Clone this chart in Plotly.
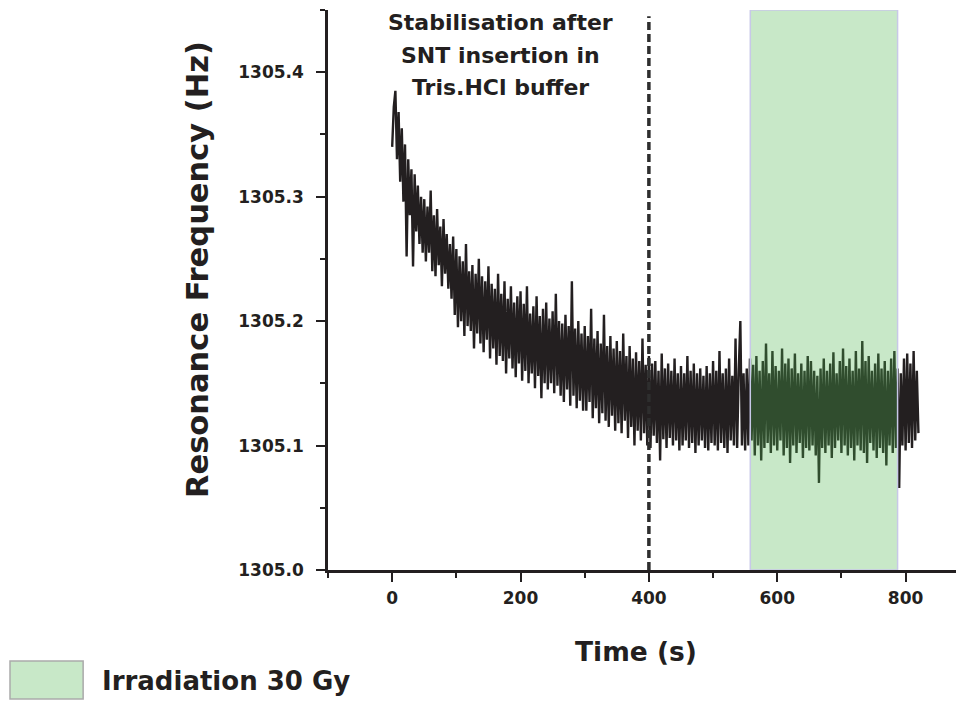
import numpy as np
import plotly.graph_objects as go

# ---------------- data ----------------
sample_interval_s = 2.5          # time between plotted samples
baseline_hz = 1305.0             # offsets below are in mHz above this
freq_offset_mhz = [
    # 0 - 47.5 s
    340, 372, 385, 330, 368, 312, 355, 296, 342, 252, 330, 285, 322, 244, 318, 272, 309, 262, 300, 255,
    # 50 - 97.5 s
    298, 248, 292, 255, 305, 240, 285, 236, 290, 245, 276, 228, 282, 238, 270, 226, 262, 218, 268, 205,
    # 100 - 147.5 s
    258, 195, 252, 200, 248, 188, 262, 196, 240, 192, 245, 178, 238, 190, 250, 182, 236, 175, 232, 185,
    # 150 - 197.5 s
    244, 170, 230, 178, 226, 165, 238, 172, 222, 168, 232, 158, 218, 170, 228, 162, 215, 155, 220, 166,
    # 200 - 247.5 s
    224, 152, 214, 160, 228, 150, 206, 158, 212, 146, 220, 156, 204, 138, 210, 150, 215, 145, 202, 150,
    # 250 - 297.5 s
    208, 142, 222, 148, 200, 140, 198, 135, 205, 145, 196, 132, 232, 140, 194, 130, 200, 136, 190, 128,
    # 300 - 347.5 s
    196, 128, 188, 135, 210, 122, 186, 130, 192, 118, 182, 126, 205, 120, 180, 115, 188, 124, 178, 112,
    # 350 - 397.5 s
    184, 118, 176, 110, 190, 120, 172, 106, 180, 115, 170, 100, 175, 112, 168, 104, 186, 110, 165, 100,
    # 400 - 447.5 s
    172, 98, 166, 108, 168, 102, 160, 88, 174, 105, 162, 98, 166, 106, 160, 100, 170, 104, 158, 96,
    # 450 - 497.5 s
    164, 100, 158, 104, 172, 98, 160, 102, 166, 94, 158, 100, 162, 104, 156, 98, 164, 96, 158, 102,
    # 500 - 547.5 s
    168, 100, 160, 96, 176, 102, 158, 98, 162, 94, 170, 104, 156, 100, 186, 98, 160, 200, 100, 158,
    # 550 - 597.5 s
    96, 162, 100, 170, 104, 165, 92, 172, 100, 160, 88, 168, 98, 182, 102, 158, 94, 176, 100, 164,
    # 600 - 647.5 s
    96, 160, 104, 178, 92, 166, 98, 170, 86, 162, 100, 174, 94, 158, 102, 166, 90, 160, 98, 172,
    # 650 - 697.5 s
    96, 168, 100, 160, 92, 156, 70, 162, 98, 170, 94, 160, 100, 166, 90, 175, 98, 158, 104, 168,
    # 700 - 747.5 s
    94, 178, 100, 164, 92, 170, 98, 160, 88, 176, 100, 162, 96, 184, 94, 168, 86, 172, 102, 160,
    # 750 - 797.5 s
    96, 166, 90, 174, 98, 162, 94, 168, 84, 160, 100, 170, 94, 176, 98, 162, 66, 158, 100, 170,
    # 800 - 820 s
    96, 174, 102, 166, 98, 176, 104, 160, 110,
]

marker_time_s = 400              # dashed vertical line
irradiation_start_s = 558
irradiation_end_s = 787.5
x_tick_values = [0, 200, 400, 600, 800]
y_tick_values = [1305.0, 1305.1, 1305.2, 1305.3, 1305.4]

annotation_lines = ["Stabilisation after", "SNT insertion in", "Tris.HCl buffer"]
legend_label = "Irradiation 30 Gy"
x_title = "Time (s)"
y_title = "Resonance Frequency (Hz)"

# ---------------- derived ----------------
time_s = np.arange(len(freq_offset_mhz)) * sample_interval_s
freq_hz = baseline_hz + np.array(freq_offset_mhz) / 1000.0

INK = "#231f20"
FONT = "DejaVu Sans"
X_RANGE = [-100, 891]
Y_RANGE = [1305.0, 1305.45]

fig = go.Figure()
fig.add_trace(go.Scatter(
    x=time_s, y=freq_hz, mode="lines",
    line=dict(color=INK, width=2.4),
    hoverinfo="skip", showlegend=False,
))

# dashed vertical line
fig.add_trace(go.Scatter(
    x=[marker_time_s, marker_time_s], y=[Y_RANGE[0], 1305.445], mode="lines",
    line=dict(color="#2e2e2e", width=3.5, dash="8px,4px"),
    hoverinfo="skip", showlegend=False,
))

# irradiation window (translucent, over the signal)
fig.add_shape(
    type="rect", xref="x", yref="y",
    x0=irradiation_start_s, x1=irradiation_end_s, y0=Y_RANGE[0], y1=Y_RANGE[1],
    fillcolor="rgba(77,180,77,0.31)", line=dict(color="rgb(200,200,232)", width=1.5),
    layer="above",
)

# legend swatch
fig.add_shape(
    type="rect", xref="paper", yref="paper",
    x0=-0.500, x1=-0.385, y0=-0.2304, y1=-0.1625,
    fillcolor="rgb(200,232,200)", line=dict(color="#aaaaaa", width=1.5),
)
fig.add_annotation(
    xref="paper", yref="paper", x=-0.358, y=-0.198, xanchor="left", yanchor="middle",
    text="<b>%s</b>" % legend_label, showarrow=False,
    font=dict(family=FONT, size=26, color=INK),
)

# annotation text
for line, yp in zip(annotation_lines, [0.9777, 0.9196, 0.8616]):
    fig.add_annotation(
        xref="x", yref="paper", x=168, y=yp, xanchor="center", yanchor="middle",
        text="<b>%s</b>" % line, showarrow=False,
        font=dict(family=FONT, size=22, color=INK),
    )

# axis titles
fig.add_annotation(
    xref="paper", yref="paper", x=0.484, y=-0.146, xanchor="center", yanchor="middle",
    text="<b>%s</b>" % x_title, showarrow=False,
    font=dict(family=FONT, size=26.5, color=INK),
)
fig.add_annotation(
    xref="paper", yref="paper", x=-0.206, y=0.5375, xanchor="center", yanchor="middle",
    text="<b>%s</b>" % y_title, showarrow=False, textangle=-90,
    font=dict(family=FONT, size=30.5, color=INK),
)

# page body adds an 8px offset, so the figure is 8px smaller and margins shifted
fig.update_layout(
    width=956, height=694,
    margin=dict(l=320, r=0, t=2, b=132),
    paper_bgcolor="white", plot_bgcolor="white",
    showlegend=False,
    font=dict(family=FONT, color=INK),
)
fig.update_xaxes(
    range=X_RANGE, showgrid=False, zeroline=False,
    showline=True, linecolor=INK, linewidth=2.5,
    ticks="outside", ticklen=9, tickwidth=2, tickcolor=INK,
    tickvals=x_tick_values, ticktext=["<b>%d</b>" % v for v in x_tick_values],
    tickfont=dict(family=FONT, size=17, color=INK),
    ticklabelstandoff=2,
    minor=dict(ticks="outside", ticklen=5, tickwidth=2, tickcolor=INK, dtick=100, tick0=0, showgrid=False),
)
fig.update_yaxes(
    range=Y_RANGE, showgrid=False, zeroline=False,
    showline=True, linecolor=INK, linewidth=2.5,
    ticks="outside", ticklen=9, tickwidth=2, tickcolor=INK,
    tickvals=y_tick_values, ticktext=["<b>%.1f</b>" % v for v in y_tick_values],
    tickfont=dict(family=FONT, size=17, color=INK),
    ticklabelstandoff=9,
    minor=dict(ticks="outside", ticklen=5, tickwidth=2, tickcolor=INK, dtick=0.05, tick0=1305.0, showgrid=False),
)

fig.write_html("out.html")
